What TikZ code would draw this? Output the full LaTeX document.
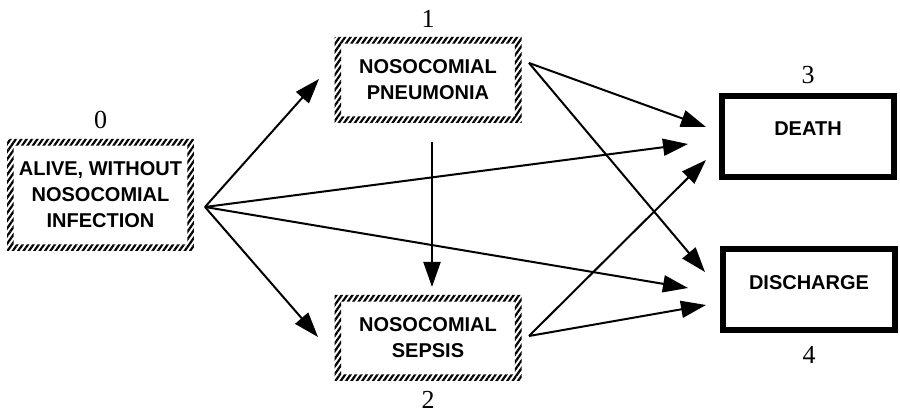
\documentclass[tikz,border=0pt]{standalone}
\usepackage{fontspec}
\setmainfont{Liberation Sans}
\newfontfamily\numfont{Liberation Serif}
\usetikzlibrary{arrows.meta,patterns.meta,positioning}

\begin{document}
\begin{tikzpicture}[x=0.5pt,y=-0.5pt,
		hatchbox/.style={minimum width=93.5pt,minimum height=43pt,inner sep=0pt,align=center,
			font=\fontsize{10}{13}\selectfont\bfseries,
			path picture={\fill[pattern={Lines[angle=55,distance=2.2pt,line width=1.1pt]},even odd rule]
				(path picture bounding box.south west) rectangle (path picture bounding box.north east)
				([shift={(3.3pt,3.3pt)}]path picture bounding box.south west) rectangle
				([shift={(-3.3pt,-3.3pt)}]path picture bounding box.north east);}},
		endbox/.style={draw,line width=3pt,minimum width=86pt,minimum height=40.5pt,inner sep=0pt,
			font=\fontsize{10}{13}\selectfont\bfseries,text height=7.3pt,text depth=8pt},
		numlbl/.style={font=\numfont\fontsize{13}{13}\selectfont,inner sep=0pt},
		arr/.style={-{Triangle[length=12.5pt,width=8.5pt]},line width=1pt}]
			%%%%% START %%%%%
			
			\useasboundingbox (0,0) rectangle (900,415);
			
			% states
			\node[hatchbox,minimum height=56pt] (b0) at (100.5,195) {ALIVE, WITHOUT\\NOSOCOMIAL\\INFECTION};
			\node[hatchbox] (b1) at (428,80) {NOSOCOMIAL\\PNEUMONIA};
			\node[hatchbox] (b2) at (428,338) {NOSOCOMIAL\\SEPSIS};
			\node[endbox] (b3) at (808,136.5) {DEATH};
			\node[endbox] (b4) at (809,290) {DISCHARGE};
			
			% state numbers
			\node[numlbl,above=4.5pt of b0] (n0) {0};
			\node[numlbl,above=4.5pt of b1] (n1) {1};
			\node[numlbl,below=4.5pt of b2] (n2) {2};
			\node[numlbl,above=4.5pt of b3] (n3) {3};
			\node[numlbl,below=6pt of b4] (n4) {4};
			
			% arrow ends
			\coordinate (s0) at (205,207);
			\coordinate (s1) at (529,63);
			\coordinate (s2) at (529,336);
			\coordinate (v1) at (432,142);
			\coordinate (v2) at (432,287);
			\coordinate (t01) at (319,79);
			\coordinate (t02) at (318,337);
			\coordinate (t03) at (688,144);
			\coordinate (t04) at (688,288);
			\coordinate (t13) at (706,127);
			\coordinate (t14) at (705,272);
			\coordinate (t23) at (706,160);
			\coordinate (t24) at (706,305);
			
			\draw[arr] (s0) -- (t01);
			\draw[arr] (s0) -- (t02);
			\draw[arr] (s0) -- (t03);
			\draw[arr] (s0) -- (t04);
			\draw[arr] (v1) -- (v2);
			\draw[arr] (s1) -- (t13);
			\draw[arr] (s1) -- (t14);
			\draw[arr] (s2) -- (t23);
			\draw[arr] (s2) -- (t24);
			
			%%%%% END %%%%%
\end{tikzpicture}
\end{document}
